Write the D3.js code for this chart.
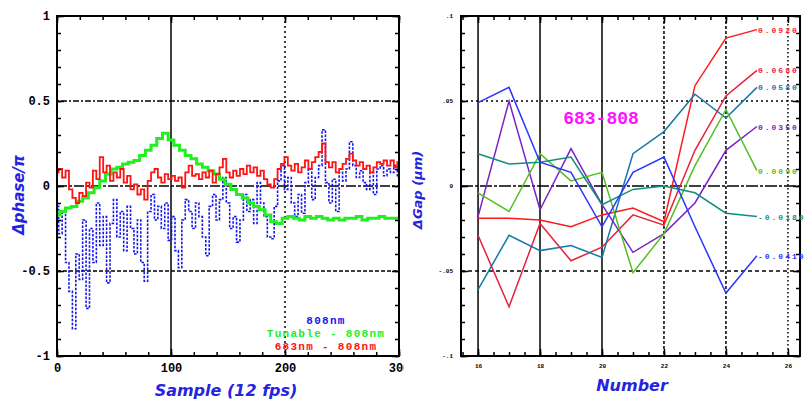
<!DOCTYPE html>
<html>
<head>
<meta charset="utf-8">
<title>Phase and gap</title>
<script src="https://cdn.jsdelivr.net/npm/d3@7"></script>
<style>
body { margin: 0; background: #fff; }
svg { display: block; }
.tick line { stroke: #000; stroke-width: 1.5; }
</style>
</head>
<body>
<svg id="chart" width="807" height="401"></svg>
<script>
// ---------- left panel data (phase vs sample) ----------
var phaseTicks = [-1, -0.5, 0, 0.5, 1];
var phaseLabels = ["-1", "-0.5", "0", "0.5", "1"];
var sampleTicks = [0, 100, 200, 300];

// one value every 3 samples
var blue808 = [-0.12,-0.28,-0.15,-0.45,-0.62,-0.84,-0.40,-0.55,-0.20,-0.72,
  -0.25,-0.45,-0.10,-0.35,-0.18,-0.57,-0.22,-0.08,-0.30,-0.15,
  -0.38,-0.12,-0.25,-0.40,-0.20,-0.45,-0.56,-0.15,-0.05,-0.20,
  -0.12,-0.25,-0.10,-0.32,-0.18,-0.38,-0.48,-0.20,-0.08,-0.15,
  -0.25,-0.10,-0.18,-0.30,-0.41,-0.12,-0.05,-0.20,-0.08,0.05,
  -0.10,-0.25,-0.18,-0.33,-0.20,-0.05,-0.15,-0.08,-0.22,0.02,
  -0.10,-0.18,-0.30,-0.31,-0.12,0.03,0.12,-0.02,0.05,-0.10,
  -0.18,-0.05,-0.16,0.02,0.10,-0.08,0.05,0.12,0.33,0.02,
  -0.10,0.04,-0.15,0.08,0.03,0.10,0.26,0.12,0.05,0.09,
  0.02,-0.02,0.08,-0.05,0.10,0.12,0.06,0.10,0.08,0.12,0.05];

var red683 = [0.08,0.10,0.05,0.09,-0.02,-0.07,-0.10,-0.04,-0.06,0.02,
  -0.01,0.09,0.04,0.17,0.08,0.12,0.03,0.08,0.05,0.10,
  0.02,0.06,-0.02,0.01,-0.05,-0.02,-0.08,0.03,0.08,0.10,
  0.05,0.02,0.07,0.04,0.06,0.03,0.05,-0.01,0.08,0.12,
  0.06,0.07,0.04,0.08,0.05,0.09,0.02,0.07,0.11,0.16,
  0.08,0.05,0.09,0.06,0.10,0.07,0.12,0.08,0.11,0.06,
  0.09,0.04,0.01,-0.01,0.04,0.10,0.13,0.17,0.12,0.09,
  0.13,0.08,0.11,0.15,0.10,0.14,0.17,0.20,0.25,0.14,
  0.11,0.14,0.08,0.10,0.13,0.16,0.19,0.15,0.12,0.14,
  0.10,0.12,0.08,0.11,0.14,0.13,0.15,0.12,0.15,0.11,0.14];

// one value every 5 samples
var greenTunable = [-0.17,-0.15,-0.13,-0.12,-0.09,-0.07,-0.04,-0.01,0.03,0.07,
  0.10,0.11,0.13,0.14,0.15,0.18,0.21,0.24,0.28,0.31,
  0.27,0.24,0.21,0.18,0.16,0.13,0.11,0.09,0.07,0.04,
  0.01,-0.02,-0.05,-0.07,-0.10,-0.12,-0.14,-0.17,-0.21,-0.22,
  -0.19,-0.18,-0.19,-0.20,-0.18,-0.19,-0.18,-0.19,-0.20,-0.19,
  -0.20,-0.19,-0.19,-0.18,-0.20,-0.19,-0.19,-0.18,-0.19,-0.19,-0.19];

var legendNames = ["808nm", "Tunable - 808nm", "683nm - 808nm"];
var legendColors = ["#1515f0", "#22ee22", "#ff1414"];

// ---------- right panel data (gap vs number) ----------
var gapNumbers = [16, 17, 18, 19, 20, 21, 22, 23, 24, 25];
var gapXTicks = [16, 18, 20, 22, 24, 26];
var gapYTicks = [-0.1, -0.05, 0, 0.05, 0.1];
var gapYLabels = ["-.1", "-.05", "0", ".05", ".1"];

var gapRedA   = [-0.019,-0.019,-0.020,-0.024,-0.017,-0.013,-0.021,0.059,0.087,0.092];
var gapRedB   = [-0.029,-0.071,-0.022,-0.044,-0.036,-0.017,-0.023,0.021,0.053,0.068];
var gapBlue   = [0.049,0.058,0.014,0.008,-0.024,0.008,0.017,-0.024,-0.063,-0.041];
var gapPurple = [-0.018,0.050,-0.014,0.022,-0.011,-0.039,-0.028,-0.010,0.021,0.035];
var gapGreen  = [-0.004,-0.015,0.019,0.003,0.008,-0.051,-0.028,0.012,0.045,0.009];
var gapTeal   = [0.019,0.013,0.014,0.017,-0.011,-0.002,0.000,-0.004,-0.016,-0.018];
var gapSteel  = [-0.061,-0.029,-0.038,-0.035,-0.042,0.019,0.032,0.054,0.040,0.058];

var gapSeries = [
  {v: gapRedA, c: "#ff1818"},
  {v: gapRedB, c: "#e8203c"},
  {v: gapSteel, c: "#1878a8"},
  {v: gapPurple, c: "#7a22c8"},
  {v: gapGreen, c: "#50c020"},
  {v: gapTeal, c: "#10907a"},
  {v: gapBlue, c: "#2a36ff"}
];

var svg = d3.select("#chart");
var mono = "'Liberation Mono', 'DejaVu Sans Mono', monospace";
var titleFont = "'DejaVu Sans', sans-serif";

function noDomain(g) { g.select(".domain").remove(); }

// draws ticks on all four sides of a box, inward
function frame(g, x, y, xMajor, xMinor, yMajor, yMinor, xFmt, yFmt, fontSize, padX, padY) {
  var x0 = x.range()[0], x1 = x.range()[1];
  var yTop = y.range()[1], yBot = y.range()[0];

  g.append("g").attr("transform", "translate(0," + yBot + ")")
    .call(d3.axisBottom(x).tickValues(xMinor).tickSize(-4).tickFormat("")).call(noDomain);
  g.append("g").attr("transform", "translate(0," + yTop + ")")
    .call(d3.axisTop(x).tickValues(xMinor).tickSize(-4).tickFormat("")).call(noDomain);
  g.append("g").attr("transform", "translate(" + x0 + ",0)")
    .call(d3.axisLeft(y).tickValues(yMinor).tickSize(-4).tickFormat("")).call(noDomain);
  g.append("g").attr("transform", "translate(" + x1 + ",0)")
    .call(d3.axisRight(y).tickValues(yMinor).tickSize(-4).tickFormat("")).call(noDomain);

  var bx = g.append("g").attr("transform", "translate(0," + yBot + ")")
    .call(d3.axisBottom(x).tickValues(xMajor).tickSize(-7).tickPadding(padX).tickFormat(xFmt)).call(noDomain);
  g.append("g").attr("transform", "translate(0," + yTop + ")")
    .call(d3.axisTop(x).tickValues(xMajor).tickSize(-7).tickFormat("")).call(noDomain);
  var ly = g.append("g").attr("transform", "translate(" + x0 + ",0)")
    .call(d3.axisLeft(y).tickValues(yMajor).tickSize(-7).tickPadding(padY).tickFormat(yFmt)).call(noDomain);
  g.append("g").attr("transform", "translate(" + x1 + ",0)")
    .call(d3.axisRight(y).tickValues(yMajor).tickSize(-7).tickFormat("")).call(noDomain);

  [bx, ly].forEach(function(a) {
    a.selectAll("text").attr("fill", "#000").style("font-family", mono)
      .style("font-weight", "bold").style("font-size", fontSize + "px");
  });

  g.append("rect").attr("x", x0).attr("y", yTop)
    .attr("width", x1 - x0).attr("height", yBot - yTop)
    .attr("fill", "none").attr("stroke", "#000").attr("stroke-width", 2);
}

// ---------- left panel ----------
svg.append("clipPath").attr("id", "leftClip")
  .append("rect").attr("x", 0).attr("y", 0).attr("width", 404).attr("height", 401);
var gL = svg.append("g").attr("clip-path", "url(#leftClip)");

var xL = d3.scaleLinear().domain([0, 300]).range([57, 399]);
var yL = d3.scaleLinear().domain([-1, 1]).range([356, 16]);

// grid
var gridL = gL.append("g");
[{v: 100, d: null}, {v: 200, d: "2,3"}].forEach(function(o) {
  gridL.append("line").attr("x1", xL(o.v)).attr("x2", xL(o.v)).attr("y1", yL(1)).attr("y2", yL(-1))
    .attr("stroke", "#000").attr("stroke-width", 1.5).attr("stroke-dasharray", o.d);
});
[{v: 0.5, d: "2,2,6,2"}, {v: 0, d: "10,2,3,2"}, {v: -0.5, d: "4,2"}].forEach(function(o) {
  gridL.append("line").attr("x1", xL(0)).attr("x2", xL(300)).attr("y1", yL(o.v)).attr("y2", yL(o.v))
    .attr("stroke", "#000").attr("stroke-width", 1.5).attr("stroke-dasharray", o.d);
});

var lineBlue = d3.line().x(function(d, i) { return xL(i * 3); }).y(function(d) { return yL(d); }).curve(d3.curveStep);
var lineGreen = d3.line().x(function(d, i) { return xL(i * 5); }).y(function(d) { return yL(d); }).curve(d3.curveStep);

gL.append("path").attr("d", lineBlue(blue808)).attr("fill", "none")
  .attr("stroke", legendColors[0]).attr("stroke-width", 1.6).attr("stroke-dasharray", "2.5,1.5");
gL.append("path").attr("d", lineGreen(greenTunable)).attr("fill", "none")
  .attr("stroke", legendColors[1]).attr("stroke-width", 3);
gL.append("path").attr("d", lineBlue(red683)).attr("fill", "none")
  .attr("stroke", legendColors[2]).attr("stroke-width", 1.8);

frame(gL, xL, yL, sampleTicks, d3.range(0, 301, 20), phaseTicks, d3.range(-10, 11).map(function(k) { return k / 10; }),
  d3.format("d"), function(d, i) { return phaseLabels[i]; }, 12, 7, 7);

// legend
gL.selectAll(".leg").data(legendNames).enter().append("text")
  .attr("x", 326).attr("y", function(d, i) { return 324 + i * 13; })
  .attr("text-anchor", "middle").attr("fill", function(d, i) { return legendColors[i]; })
  .style("font-family", mono).style("font-weight", "bold").style("font-size", "11px")
  .style("letter-spacing", "1.3px")
  .text(function(d) { return d; });

gL.append("text").attr("x", 226).attr("y", 396).attr("text-anchor", "middle")
  .attr("fill", "#2424e0").style("font-family", titleFont).style("font-style", "italic")
  .style("font-weight", "bold").style("font-size", "16px").text("Sample (12 fps)");
gL.append("text").attr("transform", "translate(24,195) rotate(-90)").attr("text-anchor", "middle")
  .attr("fill", "#2424e0").style("font-family", titleFont).style("font-style", "italic")
  .style("font-weight", "bold").style("font-size", "15px").text("\u0394phase/\u03c0");

// ---------- right panel ----------
var gR = svg.append("g");
var xR = d3.scaleLinear().domain([15.45, 26.39]).range([461, 800]);
var yR = d3.scaleLinear().domain([-0.1, 0.1]).range([356, 16]);

var gridR = gR.append("g");
[{v: 16, d: null}, {v: 18, d: null}, {v: 20, d: null}, {v: 22, d: "3,2"}, {v: 24, d: "3,2"}, {v: 26, d: "1.5,2.5"}].forEach(function(o) {
  gridR.append("line").attr("x1", xR(o.v)).attr("x2", xR(o.v)).attr("y1", yR(0.1)).attr("y2", yR(-0.1))
    .attr("stroke", "#000").attr("stroke-width", 1.5).attr("stroke-dasharray", o.d);
});
[{v: 0.05, d: "2,3"}, {v: 0, d: "12,2,3,2"}, {v: -0.05, d: "4,3"}].forEach(function(o) {
  gridR.append("line").attr("x1", xR.range()[0]).attr("x2", xR.range()[1]).attr("y1", yR(o.v)).attr("y2", yR(o.v))
    .attr("stroke", "#000").attr("stroke-width", 1.5).attr("stroke-dasharray", o.d);
});

var lineGap = d3.line().x(function(d, i) { return xR(gapNumbers[i]); }).y(function(d) { return yR(d); });
gapSeries.forEach(function(s) {
  gR.append("path").attr("d", lineGap(s.v)).attr("fill", "none")
    .attr("stroke", s.c).attr("stroke-width", 1.5);
});

frame(gR, xR, yR, gapXTicks, d3.range(15.5, 26.01, 0.5), gapYTicks, d3.range(-10, 11).map(function(k) { return k / 100; }),
  d3.format("d"), function(d, i) { return gapYLabels[i]; }, 6, 8, 8);

// end-value labels
gapSeries.forEach(function(s) {
  var last = s.v[s.v.length - 1];
  gR.append("text").attr("x", xR(gapNumbers[gapNumbers.length - 1]) + 1).attr("y", yR(last) + 3)
    .attr("fill", s.c).style("font-family", mono).style("font-weight", "bold")
    .style("font-size", "8px").style("letter-spacing", "2px").text(last.toFixed(4));
});

gR.append("text").attr("x", 601).attr("y", 124).attr("text-anchor", "middle")
  .attr("fill", "#ff10ff").style("font-family", mono).style("font-weight", "bold")
  .style("font-size", "18px").text("683-808");

gR.append("text").attr("x", 632).attr("y", 391).attr("text-anchor", "middle")
  .attr("fill", "#2424e0").style("font-family", titleFont).style("font-style", "italic")
  .style("font-weight", "bold").style("font-size", "16px").text("Number");
gR.append("text").attr("transform", "translate(422,190) rotate(-90)").attr("text-anchor", "middle")
  .attr("fill", "#2424e0").style("font-family", titleFont).style("font-style", "italic")
  .style("font-weight", "bold").style("font-size", "13px").text("\u0394Gap (\u03bcm)");
</script>
</body>
</html>
